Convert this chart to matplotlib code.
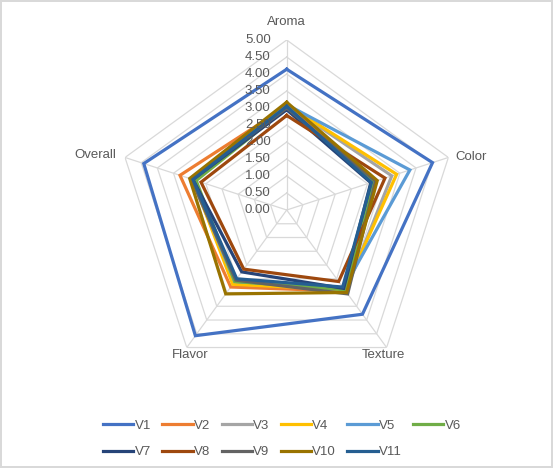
import matplotlib
matplotlib.use("Agg")
import matplotlib.pyplot as plt
import numpy as np

plt.rcParams['font.family'] = ['Liberation Sans', 'DejaVu Sans']

categories = ["Aroma", "Color", "Texture", "Flavor", "Overall"]
series = ["V1", "V2", "V3", "V4", "V5", "V6", "V7", "V8", "V9", "V10", "V11"]
values = {
    "V1":  [4.14, 4.51, 3.79, 4.57, 4.42],
    "V2":  [3.05, 2.75, 2.95, 2.80, 3.30],
    "V3":  [3.10, 3.25, 2.95, 2.60, 2.95],
    "V4":  [3.10, 3.40, 2.90, 2.70, 2.90],
    "V5":  [3.10, 3.81, 2.85, 2.60, 2.90],
    "V6":  [3.00, 2.70, 2.90, 2.60, 2.80],
    "V7":  [2.95, 2.60, 2.85, 2.25, 2.90],
    "V8":  [2.78, 3.04, 2.60, 2.15, 2.65],
    "V9":  [3.00, 2.75, 3.05, 2.55, 2.95],
    "V10": [3.17, 2.80, 3.00, 3.05, 3.00],
    "V11": [3.05, 2.62, 2.80, 2.50, 2.90],
}
colors = ["#4472C4", "#ED7D31", "#A5A5A5", "#FFC000", "#5B9BD5", "#70AD47",
          "#264478", "#9E480E", "#636363", "#997300", "#255E91"]
levels = np.arange(0, 5.01, 0.5)

txt = "#595959"
grid_c = "#D9D9D9"
px = 0.72  # points per pixel at dpi 100

fig = plt.figure(figsize=(5.53, 4.68), dpi=100)
fig.patch.set_edgecolor(grid_c)
fig.patch.set_linewidth(1.5)
ax = fig.add_axes([116.7 / 553, 88 / 468, 340 / 553, 340 / 468], polar=True)
ax.set_theta_zero_location("N")
ax.set_theta_direction(-1)
ax.set_ylim(0, 5)
ax.grid(False)
ax.spines['polar'].set_visible(False)
ax.set_xticks([])
ax.set_yticks([])
ax.patch.set_alpha(0)

theta = np.linspace(0, 2 * np.pi, len(categories), endpoint=False)
closed = np.append(theta, theta[0])

# pentagon grid
for lv in levels:
    ax.plot(closed, [lv] * len(closed), color=grid_c, lw=0.9, zorder=1)
for t in theta:
    ax.plot([t, t], [0, 5], color=grid_c, lw=0.9, zorder=1)

# radial labels
for lv in levels:
    ax.annotate(f"{lv:.2f}", xy=(0, lv), xytext=(-16 * px, 0),
                textcoords="offset points", ha="right", va="center",
                fontsize=9.5, color=txt, zorder=5)

# series
for name, c in zip(series, colors):
    v = values[name]
    ax.plot(closed, v + v[:1], color=c, lw=2.3, label=name, zorder=3,
            solid_joinstyle="miter")

# category labels
offsets = [((0, 18), "center"), ((7, 0), "left"), ((-3, -7), "center"),
           ((3, -7), "center"), ((-9, 2), "right")]
for t, cat, (off, ha) in zip(theta, categories, offsets):
    ax.annotate(cat, xy=(t, 5), xytext=(off[0] * px, off[1] * px),
                textcoords="offset points", ha=ha, va="center",
                fontsize=9.5, color=txt)

handles, labels = ax.get_legend_handles_labels()
order = [0, 6, 1, 7, 2, 8, 3, 9, 4, 10, 5]
leg = fig.legend([handles[i] for i in order], [labels[i] for i in order],
                 ncol=6, loc="center", bbox_to_anchor=(0.51, 0.062),
                 frameon=False, fontsize=9.5, handlelength=2.3,
                 handletextpad=0.1, columnspacing=0.85, labelspacing=1.05)
for t in leg.get_texts():
    t.set_color(txt)

fig.savefig("out.png", dpi=100)
